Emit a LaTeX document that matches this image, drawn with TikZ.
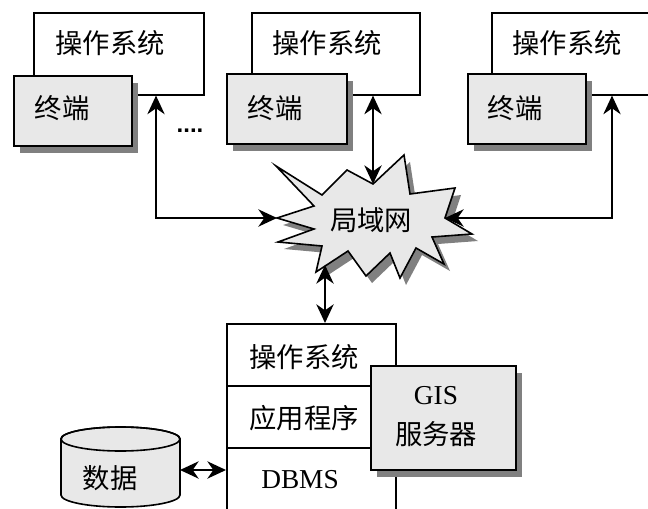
\documentclass[tikz,border=0pt]{standalone}
\usepackage{fontspec}
\setmainfont{Liberation Serif}
\newfontfamily\cjk{Noto Sans CJK SC}
\newfontfamily\dotfont{Liberation Sans}
\usetikzlibrary{arrows.meta,shadows}
\definecolor{boxgray}{HTML}{E8E8E8}
\definecolor{shadowgray}{HTML}{808080}
\begin{document}
\begin{tikzpicture}[x=0.75pt,y=-0.75pt,
  every node/.style={font=\fontsize{20.5}{24}\selectfont},
  plainbox/.style={draw, line width=1.2pt, fill=white, inner sep=0pt, anchor=north west},
  graybox/.style={draw, line width=1.2pt, fill=boxgray, inner sep=0pt, anchor=north west,
     drop shadow={shadow xshift=5pt, shadow yshift=-5.5pt, fill=shadowgray, opacity=1}},
  lbl/.style={inner sep=0pt, font=\fontsize{20.5}{24}\selectfont\cjk},
  >={Stealth[length=14pt,width=13pt,inset=4.5pt]},
  conn/.style={line width=1.2pt, <->}]
\useasboundingbox (0,0) rectangle (648,509);
\clip (0,0) rectangle (648,509);

% operating system boxes
\node[plainbox, minimum width=127.5pt, minimum height=61.5pt] (os1) at (33,12) {};
\node[plainbox, minimum width=126pt, minimum height=61.5pt] (os2) at (251,12) {};
\node[plainbox, minimum width=127.5pt, minimum height=61.5pt] (os3) at (491,12) {};
\node[lbl] (os1t) at (110,43) {操作系统};
\node[lbl] (os2t) at (327,43) {操作系统};
\node[lbl] (os3t) at (567,43) {操作系统};

% terminals
\node[graybox, minimum width=88.5pt, minimum height=52.5pt] (t1) at (13,75) {};
\node[graybox, minimum width=90pt, minimum height=52.5pt] (t2) at (226,73) {};
\node[graybox, minimum width=88.5pt, minimum height=52.5pt] (t3) at (467,73) {};
\node[lbl] (t1t) at (62,108) {终端};
\node[lbl] (t2t) at (275,108) {终端};
\node[lbl] (t3t) at (515,108) {终端};

\node[inner sep=0pt, font=\fontsize{18}{20}\selectfont\dotfont\bfseries] (dots) at (190,131) {....};

% LAN starburst
\def\burst{(276,166) -- (322,195) -- (347,170) -- (373,184) -- (404,155) -- (410,194) -- (455,188) -- (445,218) -- (472,234) -- (432,237) -- (444,264) -- (416,248) -- (400,278) -- (390,253) -- (366,276) -- (348,251) -- (316,272) -- (322,246) -- (278,242) -- (314,229) -- (277,218) -- (314,206) -- cycle}
\fill[shadowgray, shift={(6,7)}] \burst;
\draw[line width=1.2pt, fill=boxgray, line join=miter] \burst;
\node[lbl] (lan) at (371,220) {局域网};
\coordinate (lanL) at (277,218);
\coordinate (lanT) at (373,184);
\coordinate (lanR) at (445,218);
\coordinate (lanB) at (325,265);

% server stack
\node[plainbox, minimum width=126.75pt, minimum height=46.5pt] (s1) at (226,323) {};
\node[plainbox, minimum width=126.75pt, minimum height=46.5pt] (s2) at (226,385) {};
\node[plainbox, minimum width=126.75pt, minimum height=62.25pt] (s3) at (226,447) {};
\node[lbl] (s1t) at (304,357) {操作系统};
\node[lbl] (s2t) at (304,418) {应用程序};
\node[inner sep=0pt] (s3t) at (300,480) {DBMS};

% GIS server
\node[graybox, minimum width=108.75pt, minimum height=78pt] (gis) at (370,365) {};
\node[inner sep=0pt, align=center, font=\fontsize{20.5}{30}\selectfont] (gist) at (436,417) {GIS\\{\cjk 服务器}};

% data cylinder
\draw[line width=1.2pt, fill=boxgray] (61,439) -- (61,495)
  arc[start angle=180, end angle=360, x radius=44.625pt, y radius=9pt] -- (180,439)
  arc[start angle=0, end angle=180, x radius=44.625pt, y radius=9pt] -- cycle;
\draw[line width=1.2pt] (120.5,439) ellipse[x radius=44.625pt, y radius=9pt];
\node[lbl] (data) at (110,478) {数据};
\coordinate (dataR) at (180,470);

% connectors
\draw[conn] ([xshift=92.25pt]os1.south west) |- (lanL);
\draw[conn] ([xshift=91.5pt]os2.south west) -- (lanT);
\draw[conn] ([xshift=90.75pt]os3.south west) |- (lanR);
\draw[conn] (lanB) -- ([xshift=74.25pt]s1.north west);
\draw[conn] (dataR) -- ([yshift=-17.25pt]s3.north west);
\end{tikzpicture}
\end{document}
